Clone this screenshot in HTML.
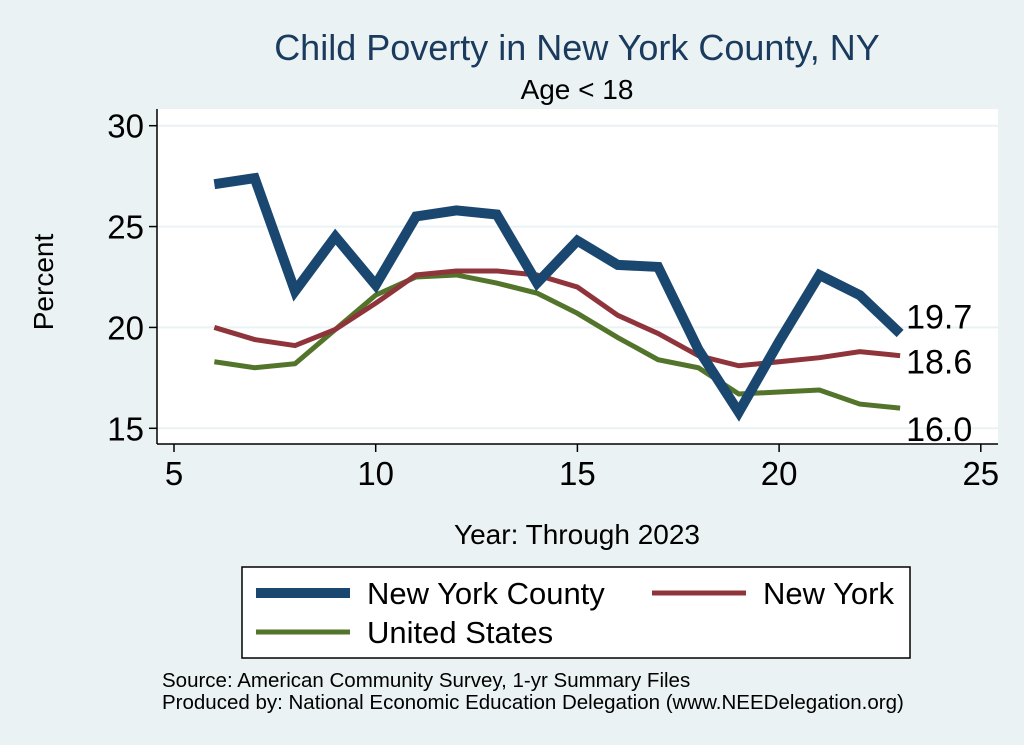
<!DOCTYPE html>
<html><head><meta charset="utf-8"><style>
body{margin:0;background:#eaf2f3;}
svg{display:block;font-family:"Liberation Sans",sans-serif;}
</style></head><body>
<svg id="c" width="1024" height="745" viewBox="0 0 1024 745">
<rect x="0" y="0" width="1024" height="745" fill="#eaf2f3"/>
<text x="577" y="60" font-size="36" fill="#1a3a5e" text-anchor="middle">Child Poverty in New York County, NY</text>
<text x="577" y="99" font-size="28" fill="#000" text-anchor="middle">Age &lt; 18</text>
<rect x="157" y="109" width="841" height="335" fill="#fff"/>
<g id="grid"></g>
<g id="axes"></g>
<g id="series"></g>
<text x="53" y="282" font-size="28" text-anchor="middle" transform="rotate(-90 53 282)">Percent</text>
<text x="577" y="544" font-size="28" text-anchor="middle">Year: Through 2023</text>
<g>
<rect x="242" y="567" width="668" height="91" fill="#fff" stroke="#000" stroke-width="1.5"/>
<line x1="256" y1="593" x2="350" y2="593" stroke="#1a4770" stroke-width="10"/>
<text x="367" y="604" font-size="31">New York County</text>
<line x1="652" y1="593" x2="746" y2="593" stroke="#8f343b" stroke-width="5"/>
<text x="763" y="604" font-size="31">New York</text>
<line x1="256" y1="632" x2="350" y2="632" stroke="#53742b" stroke-width="5"/>
<text x="367" y="643" font-size="31">United States</text>
</g>
<text x="162" y="687" font-size="20.5">Source: American Community Survey, 1-yr Summary Files</text>
<text x="162" y="709" font-size="20.5">Produced by: National Economic Education Delegation (www.NEEDelegation.org)</text>
</svg>
<script>
const years=[6,7,8,9,10,11,12,13,14,15,16,17,18,19,20,21,22,23];
const county=[27.1,27.4,21.8,24.5,22.1,25.5,25.8,25.6,22.2,24.3,23.1,23.0,18.9,15.8,19.3,22.6,21.6,19.7];
const newYork=[20.0,19.4,19.1,19.9,21.2,22.6,22.8,22.8,22.6,22.0,20.6,19.7,18.6,18.1,18.3,18.5,18.8,18.6];
const us=[18.3,18.0,18.2,19.9,21.6,22.5,22.6,22.2,21.7,20.7,19.5,18.4,18.0,16.7,16.8,16.9,16.2,16.0];
const xTicks=[5,10,15,20,25];
const yTicks=[15,20,25,30];
const NS='http://www.w3.org/2000/svg';
const xs=v=>174+(v-5)*(375.7-174)/5;
const ys=v=>428.3-(v-15)*(428.3-125.7)/15;
function mk(t,a,p){const e=document.createElementNS(NS,t);for(const k in a)e.setAttribute(k,a[k]);p.appendChild(e);return e;}
const grid=document.getElementById('grid'),axes=document.getElementById('axes'),ser=document.getElementById('series');
yTicks.forEach(v=>{
 const g=mk('line',{x1:157,x2:998,y1:ys(v),y2:ys(v),stroke:'#eaf2f3','stroke-width':2},grid);
 
 
 const t=mk('line',{x1:149,x2:157,y1:ys(v),y2:ys(v),stroke:'#000','stroke-width':1.5},axes);
 
 
 const l=mk('text',{x:144,y:ys(v)+12,'font-size':33,'text-anchor':'end'},axes);l.textContent=v;
 
 
});
xTicks.forEach(v=>{
 const t=mk('line',{x1:xs(v),x2:xs(v),y1:444,y2:452,stroke:'#000','stroke-width':1.5},axes);
 
 
 const l=mk('text',{x:xs(v),y:485,'font-size':33,'text-anchor':'middle'},axes);l.textContent=v;
 
 
});
const ya=mk('line',{x1:157,x2:157,y1:109,y2:444,stroke:'#000','stroke-width':1.5},axes);


const xa=mk('line',{x1:157,x2:998,y1:444,y2:444,stroke:'#000','stroke-width':1.5},axes);


function line(vals,color,w,name,dy){
 const p=mk('polyline',{points:vals.map((v,i)=>xs(years[i])+','+ys(v)).join(' '),fill:'none',stroke:color,'stroke-width':w,'stroke-linejoin':'miter','stroke-miterlimit':3},ser);
 
 
 const n=vals.length-1;
 const l=mk('text',{x:xs(years[n])+6,y:ys(vals[n])+dy,'font-size':34},ser);l.textContent=vals[n].toFixed(1);
 
 
}
line(us,'#53742b',5,'line-united-states',33);
line(newYork,'#8f343b',5,'line-new-york',18);
line(county,'#1a4770',10,'line-new-york-county',-5);
</script>
</body></html>
